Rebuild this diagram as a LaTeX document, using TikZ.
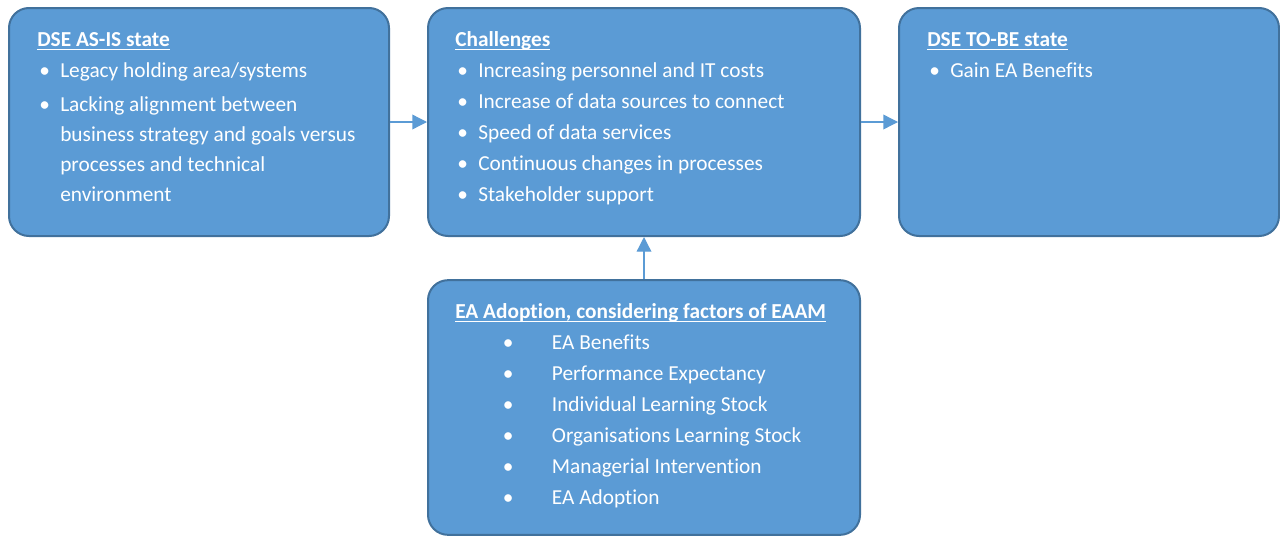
\documentclass[tikz,border=0pt]{standalone}
\usepackage{fontspec}
\setmainfont[Ligatures=NoCommon]{Carlito}
\usetikzlibrary{arrows.meta}
\definecolor{cajaazul}{HTML}{5B9BD5}
\definecolor{bordeazul}{HTML}{41719C}
\newcommand\subrayado[1]{\rule{0pt}{14pt}\setbox0\hbox{#1}\rlap{\rule[-3pt]{\wd0}{0.9pt}}\box0}
\newcommand\punto{\hspace*{1.5pt}\makebox[15.75pt][l]{\textbullet}}
\newcommand\sangria{\hspace*{17.25pt}}
\newcommand\puntoancho{\hspace*{35.75pt}\makebox[36.75pt][l]{\textbullet}}
\tikzset{
	caja/.style={draw=bordeazul, line width=1.5pt, fill=cajaazul, rounded corners=15pt},
	texto/.style={text=white, font=\fontsize{16}{23.25}\selectfont, align=left, inner sep=0pt, anchor=north west},
	flecha/.style={draw=cajaazul, line width=1pt, -{Triangle[length=11pt,width=11pt]}}
}
\begin{document}
\begin{tikzpicture}[x=0.75pt, y=-0.75pt]
	\useasboundingbox (0,0) rectangle (1280,536);
	
	% Cajas de arriba
	\node[caja, minimum width=285pt, minimum height=171pt] (asis) at (199,122) {};
	\node[caja, minimum width=324pt, minimum height=171pt] (retos) at (644,122) {};
	\node[caja, minimum width=285pt, minimum height=171pt] (tobe) at (1089,122) {};
	
	% Caja de abajo
	\node[caja, minimum width=324pt, minimum height=191pt] (eaam) at (644,407.5) {};
	
	% Textos (arriba de cada caja)
	\node[texto] (asistxt) at (37,27.33) {\subrayado{\textbf{DSE AS-IS state}}\\
		\punto Legacy holding area/systems\\[2.25pt]
		\punto Lacking alignment between\\[-0.75pt]
		\sangria business strategy and goals versus\\[-0.75pt]
		\sangria processes and technical\\[-0.75pt]
		\sangria environment};
	\node[texto] (retostxt) at (455,27.33) {\subrayado{\textbf{Challenges}}\\
		\punto Increasing personnel and IT costs\\
		\punto Increase of data sources to connect\\
		\punto Speed of data services\\
		\punto Continuous changes in processes\\
		\punto Stakeholder support};
	\node[texto] (tobetxt) at (927,27.33) {\subrayado{\textbf{DSE TO-BE state}}\\
		\punto Gain EA Benefits};
	\node[texto] (eaamtxt) at (455,299.33) {\subrayado{\textbf{EA Adoption, considering factors of EAAM}}\\
		\puntoancho EA Benefits\\
		\puntoancho Performance Expectancy\\
		\puntoancho Individual Learning Stock\\
		\puntoancho Organisations Learning Stock\\
		\puntoancho Managerial Intervention\\
		\puntoancho EA Adoption};
	
	% Flechas
	\draw[flecha] (asis.east) -- (retos.west);
	\draw[flecha] (retos.east) -- (tobe.west);
	\draw[flecha] (eaam.north) -- (retos.south);
\end{tikzpicture}
\end{document}
